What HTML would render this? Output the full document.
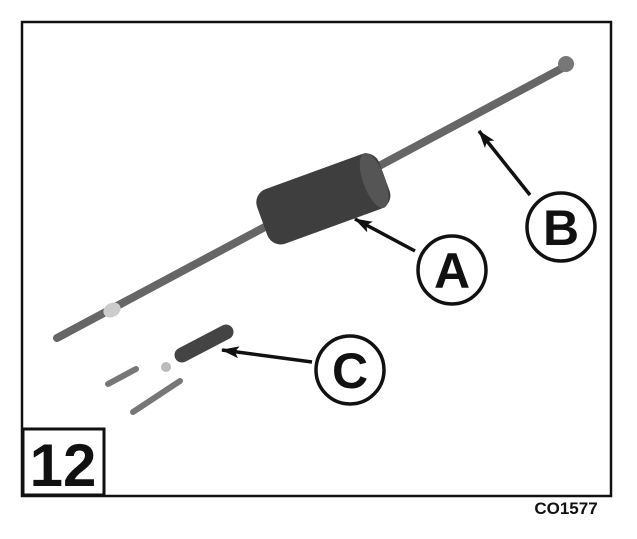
<!DOCTYPE html>
<html><head><style>
html,body{margin:0;padding:0;background:#fff;width:637px;height:539px;overflow:hidden}
svg{display:block}
</style></head><body>
<svg width="637" height="539" viewBox="0 0 637 539" xmlns="http://www.w3.org/2000/svg">
<rect x="0" y="0" width="637" height="539" fill="#fff"/>
<rect x="22" y="22" width="589" height="474" fill="none" stroke="#111" stroke-width="2.5"/>
<!-- rod -->
<line x1="57" y1="338" x2="570" y2="64" stroke="#666" stroke-width="8" stroke-linecap="round"/>
<circle cx="566" cy="64" r="8" fill="#777"/>
<ellipse cx="112" cy="310" rx="9" ry="7" fill="#ccc" transform="rotate(-28 112 310)"/>
<!-- cylinder -->
<g transform="rotate(-20 323 198)">
<rect x="258" y="170" width="130" height="58" rx="14" fill="#3e3e3e"/>
<ellipse cx="377" cy="199" rx="11" ry="29" fill="#555"/>
</g>
<!-- C parts -->
<line x1="182" y1="355" x2="226" y2="332" stroke="#444" stroke-width="15" stroke-linecap="round"/>
<line x1="108" y1="384" x2="136" y2="369" stroke="#777" stroke-width="6" stroke-linecap="round"/>
<line x1="133" y1="412" x2="180" y2="381" stroke="#777" stroke-width="6" stroke-linecap="round"/>
<circle cx="166" cy="367" r="5" fill="#bbb"/>
<!-- arrows -->
<defs><marker id="ah" markerWidth="18" markerHeight="12" refX="17" refY="6" orient="auto" markerUnits="userSpaceOnUse"><path d="M0,0 L18,6 L0,12 L4,6 Z" fill="#111"/></marker></defs>
<line x1="530" y1="195" x2="479" y2="131" stroke="#111" stroke-width="3.5" marker-end="url(#ah)"/>
<line x1="415" y1="251" x2="355" y2="219" stroke="#111" stroke-width="3.5" marker-end="url(#ah)"/>
<line x1="312" y1="362" x2="222" y2="350" stroke="#111" stroke-width="3.5" marker-end="url(#ah)"/>
<!-- circles -->
<g font-family="Liberation Sans, sans-serif" font-weight="bold" font-size="50" text-anchor="middle" fill="#111">
<circle cx="561" cy="227" r="34" fill="#fff" stroke="#111" stroke-width="3.5"/>
<text x="561" y="245">B</text>
<circle cx="452" cy="270" r="34" fill="#fff" stroke="#111" stroke-width="3.5"/>
<text x="452" y="288">A</text>
<circle cx="350" cy="370" r="34" fill="#fff" stroke="#111" stroke-width="3.5"/>
<text x="350" y="388">C</text>
</g>
<!-- label box -->
<rect x="23" y="429" width="81" height="66" fill="#fff" stroke="#111" stroke-width="3"/>
<text x="63" y="486" font-family="Liberation Sans, sans-serif" font-weight="bold" font-size="60" text-anchor="middle" fill="#111">12</text>
<text x="566" y="514" font-family="Liberation Sans, sans-serif" font-weight="bold" font-size="17" text-anchor="middle" fill="#111">CO1577</text>
</svg>
</body></html>
